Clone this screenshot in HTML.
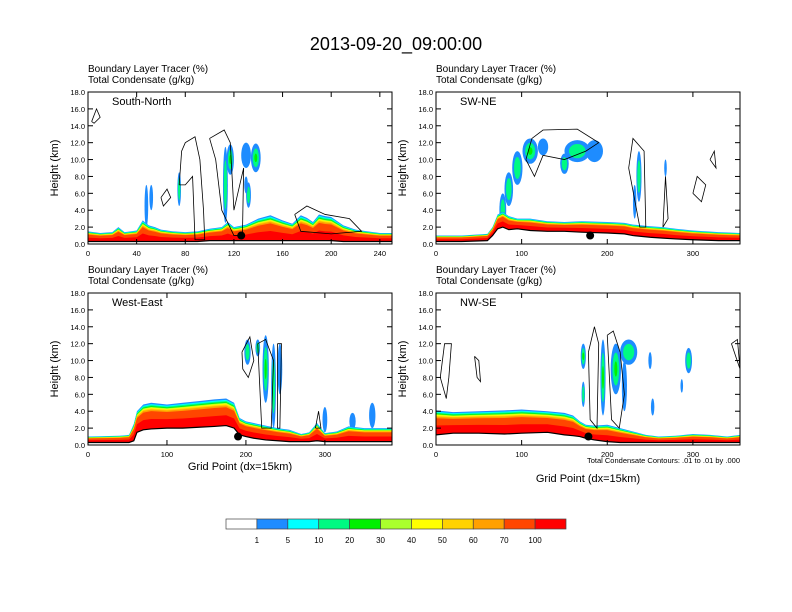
<!DOCTYPE html>
<html><head><meta charset="utf-8"><style>
body{margin:0;background:#fff}
svg{display:block;font-family:"Liberation Sans",sans-serif}
</style></head><body>
<svg id="chart" width="792" height="612" viewBox="0 0 792 612">
<text x="396" y="50" font-size="18" text-anchor="middle">2013-09-20_09:00:00</text>
</svg>
<script>
// ---- data ----
const colorLevels = ["1","5","10","20","30","40","50","60","70","100"];
const colors = ["#ffffff","#1e8cff","#00ffff","#00fa82","#00f000","#aaff2d","#ffff00","#ffd200","#ffa000","#ff4600","#ff0000"];
// South-North
const snGrid = [0,10,20,25,30,40,45,50,55,60,70,80,90,100,110,115,120,130,140,150,160,168,175,180,185,190,195,200,210,220,230,240,250];
const snTer  = [0.3,0.3,0.3,0.3,0.3,0.3,0.3,0.3,0.3,0.3,0.3,0.3,0.3,0.4,0.4,0.4,0.4,0.4,0.4,0.4,0.4,0.4,0.4,0.4,0.4,0.4,0.4,0.4,0.3,0.3,0.3,0.3,0.3];
const snBL   = [1.5,1.3,1.4,2.0,1.4,1.6,2.8,2.2,2.0,1.7,1.5,1.4,1.5,1.8,2.0,2.6,2.0,2.3,3.0,3.4,2.8,2.4,3.4,3.1,2.6,3.5,3.3,3.2,2.2,1.7,1.5,1.3,1.3];
// SW-NE
const swGrid = [0,30,60,66,72,78,85,95,110,130,150,170,200,220,230,250,265,280,300,330,355];
const swTer  = [0.3,0.3,0.4,1.0,1.8,2.0,1.7,1.8,1.6,1.5,1.5,1.4,1.3,1.2,1.0,0.8,0.7,0.6,0.5,0.4,0.4];
const swBL   = [1.0,1.0,1.2,2.0,3.5,3.8,3.3,3.0,3.0,2.7,2.6,2.7,2.6,2.5,2.3,2.1,2.0,1.8,1.6,1.4,1.3];
// West-East
const weGrid = [0,40,52,58,62,70,80,100,120,140,160,175,185,192,200,210,225,240,255,270,280,290,300,315,330,350,385];
const weTer  = [0.3,0.3,0.3,0.5,1.5,1.8,1.9,2.0,2.0,2.1,2.2,2.3,2.0,1.2,1.0,0.8,0.6,0.5,0.4,0.4,0.4,0.5,0.4,0.4,0.4,0.4,0.4];
const weBL   = [1.0,1.1,1.2,2.5,4.0,4.8,5.0,4.8,5.0,5.2,5.4,5.5,5.0,3.2,2.8,2.6,2.3,2.0,1.8,1.3,1.5,2.6,1.4,1.6,2.2,2.0,2.0];
// NW-SE
const nwGrid = [0,20,50,80,100,130,150,160,168,175,185,200,215,230,245,260,280,300,320,340,355];
const nwTer  = [1.2,1.4,1.4,1.3,1.4,1.5,1.2,1.1,1.0,0.8,0.6,0.4,0.3,0.3,0.3,0.3,0.3,0.3,0.3,0.3,0.3];
const nwBL   = [4.1,3.9,4.0,4.1,4.2,4.0,3.8,3.5,2.8,2.4,2.3,2.4,2.0,1.6,1.2,1.0,1.1,1.3,1.2,1.0,1.2];
// cloud blobs: [grid x, height km, half-width grid, half-height km, nLevels]
const snClouds = [[48,4.5,1.5,2.5,1],[52,5.5,1.5,1.5,1],[75,6.5,1.5,2,2],[113,7,2,4.5,2],[117,10,3,1.8,3],[130,10.5,4,1.5,1],[138,10.2,4,1.7,3],[132,5.8,2,1.5,2],[130,7,1.5,1,1]];
const swClouds = [[78,4,4,2,2],[85,6.5,5,2,2],[95,9,6,2,2],[110,11,9,1.5,3],[125,11.5,6,1,1],[150,9.5,5,1.2,2],[165,11,15,1.3,2],[185,11,10,1.3,1],[237,8,3,3,2],[232,5,2,2,1],[268,9,1.5,1,1]];
const weClouds = [[202,11,4,1.5,2],[215,11.5,3,1,2],[225,9,4,4,3],[235,7,3,5,2],[243,9,3,3,1],[300,3,3,1.5,1],[335,2.8,4,1,1],[360,3.5,4,1.5,1]];
const nwClouds = [[172,10.5,3,1.5,3],[172,6,2,1.5,2],[195,8,3,4.5,3],[210,9,6,3,3],[225,11,10,1.5,2],[220,7,3,3,1],[250,10,2,1,1],[295,10,4,1.5,2],[287,7,1.5,0.8,1],[253,4.5,2,1,1]];
// contours [x,h] closed polylines
const snCont = [[[75,7],[77,11],[80,12],[88,12.7],[92,10],[95,4],[96,0.5],[88,0.5],[86,8],[80,7],[75,7]],[[100,12.5],[112,13.5],[117,12],[120,4],[128,9],[127,1],[120,1],[110,4],[105,10],[100,12.5]],[[3,14.5],[7,16],[10,15],[5,14.3],[3,14.5]],[[60,5.5],[65,6.5],[68,5.5],[62,4.5],[60,5.5]],[[170,3.5],[180,4.5],[195,3.5],[215,3],[225,1.5],[200,1.2],[175,1.5],[170,3.5]]];
const swCont = [[[105,10],[112,12.5],[125,13.5],[165,13.6],[190,12],[175,11],[150,10],[125,10.5],[115,8],[105,10]],[[225,9],[230,12.5],[243,11],[245,2],[238,2],[225,9]],[[265,2],[268,8],[271,3],[265,2]],[[300,6],[310,5],[315,7],[305,8],[300,6]],[[320,10],[325,11],[327,9],[320,10]]];
const weCont = [[[195,11],[205,12.8],[210,10],[203,8],[196,9],[195,11]],[[215,12],[225,12.5],[235,10],[232,2],[220,2],[215,12]],[[240,12],[245,12],[243,2],[240,2],[240,12]],[[288,2],[292,4],[295,2],[288,2]]];
const nwCont = [[[5,8],[10,12],[18,12],[15,8],[12,5.5],[5,8]],[[45,10.5],[50,10],[52,7.5],[48,8],[45,10.5]],[[178,11],[185,14],[190,12],[188,2],[180,3],[178,11]],[[200,13],[207,13.5],[215,11],[220,6],[214,2],[205,3],[200,13]],[[345,12],[352,12.5],[355,9],[345,12]]];
const snTicks = [0,40,80,120,160,200,240];
const otherTicks = [0,100,200,300];
const yTicks = [0,2,4,6,8,10,12,14,16,18];

const svg = document.getElementById('chart');
const NS = 'http://www.w3.org/2000/svg';
function mk(tag, attrs, parent){const e=document.createElementNS(NS,tag);for(const k in attrs)e.setAttribute(k,attrs[k]);(parent||svg).appendChild(e);return e;}
const fracs=[1,0.95,0.91,0.87,0.84,0.81,0.78,0.74,0.68,0.38];
const cloudCols=["#1e8cff","#00fa82","#00f000"];

function drawPanel(p){
  const g=mk('g',{});
  
  
  const X=v=>p.x0+v/p.xmax*(p.x1-p.x0), Y=h=>p.y1-h/18*(p.y1-p.y0);
  const cp='cp-'+p.name;
  const cl=mk('clipPath',{id:cp},g); mk('rect',{x:p.x0,y:p.y0,width:p.x1-p.x0,height:p.y1-p.y0},cl);
  const plot=mk('g',{'clip-path':'url(#'+cp+')'},g);
  p.clouds.forEach(c=>{
    for(let k=0;k<c[4];k++){
      const s=1-k*0.35;
      const e=mk('ellipse',{cx:X(c[0]),cy:Y(c[1]),rx:Math.max(1,(X(c[2])-X(0))*s),ry:Math.max(1,(Y(0)-Y(c[3]))*s),fill:cloudCols[k]},plot);
      
      
    }
  });
  fracs.forEach((f,i)=>{
    let pts=p.grid.map((gx,j)=>X(gx)+','+Y(p.ter[j]+(p.bl[j]-p.ter[j])*f));
    for(let j=p.grid.length-1;j>=0;j--)pts.push(X(p.grid[j])+','+Y(0));
    const poly=mk('polygon',{points:pts.join(' '),fill:colors[i+1]},plot);
    
    
  });
  let tp=p.grid.map((gx,j)=>X(gx)+','+Y(p.ter[j]));
  mk('polygon',{points:tp.concat([X(p.xmax)+','+Y(0),X(0)+','+Y(0)]).join(' '),fill:'#fff'},plot);
  const tl=mk('polyline',{points:tp.join(' '),fill:'none',stroke:'#000','stroke-width':1.2},plot);
  
  
  p.cont.forEach(c=>{
    const l=mk('polyline',{points:c.map(q=>X(q[0])+','+Y(q[1])).join(' '),fill:'none',stroke:'#000','stroke-width':0.8},plot);
    
    
  });
  const dot=mk('circle',{cx:X(p.dot),cy:Y(1.0),r:4,fill:'#000'},plot);
  
  
  mk('rect',{x:p.x0,y:p.y0,width:p.x1-p.x0,height:p.y1-p.y0,fill:'none',stroke:'#000','stroke-width':1},g);
  yTicks.forEach(t=>{
    const y=Y(t);
    mk('line',{x1:p.x0,x2:p.x0+5,y1:y,y2:y,stroke:'#000'},g);
    mk('line',{x1:p.x1,x2:p.x1-5,y1:y,y2:y,stroke:'#000'},g);
    const tx=mk('text',{x:p.x0-3,y:y+3,'font-size':7.5,'text-anchor':'end'},g);tx.textContent=t.toFixed(1);
    
    
  });
  p.ticks.forEach(t=>{
    const x=X(t);
    mk('line',{x1:x,x2:x,y1:p.y1,y2:p.y1-5,stroke:'#000'},g);
    mk('line',{x1:x,x2:x,y1:p.y0,y2:p.y0+5,stroke:'#000'},g);
    const tx=mk('text',{x:x,y:p.y1+12,'font-size':7.5,'text-anchor':'middle'},g);tx.textContent=t;
    
    
  });
  const yl=mk('text',{x:0,y:0,'font-size':11,'text-anchor':'middle',transform:'translate('+(p.x0-30)+','+((p.y0+p.y1)/2)+') rotate(-90)'},g);yl.textContent='Height (km)';
  
  
  const t1=mk('text',{x:p.x0,y:p.y0-20,'font-size':10},g);t1.textContent='Boundary Layer Tracer   (%)';
  
  
  const t2=mk('text',{x:p.x0,y:p.y0-9,'font-size':10},g);t2.textContent='Total Condensate   (g/kg)';
  
  
  const lb=mk('text',{x:p.x0+24,y:p.y0+13,'font-size':11},g);lb.textContent=p.label;
  
  
}
drawPanel({name:'south-north',label:'South-North',x0:88,x1:392,y0:92,y1:244,xmax:250,ticks:snTicks,grid:snGrid,ter:snTer,bl:snBL,clouds:snClouds,cont:snCont,dot:126});
drawPanel({name:'sw-ne',label:'SW-NE',x0:436,x1:740,y0:92,y1:244,xmax:355,ticks:otherTicks,grid:swGrid,ter:swTer,bl:swBL,clouds:swClouds,cont:swCont,dot:180});
drawPanel({name:'west-east',label:'West-East',x0:88,x1:392,y0:293,y1:445,xmax:385,ticks:otherTicks,grid:weGrid,ter:weTer,bl:weBL,clouds:weClouds,cont:weCont,dot:190});
drawPanel({name:'nw-se',label:'NW-SE',x0:436,x1:740,y0:293,y1:445,xmax:355,ticks:otherTicks,grid:nwGrid,ter:nwTer,bl:nwBL,clouds:nwClouds,cont:nwCont,dot:178});

function txt(x,y,s,size,anchor,name){const t=mk('text',{x:x,y:y,'font-size':size,'text-anchor':anchor});t.textContent=s;
  
  }
txt(240,470,'Grid Point (dx=15km)',11,'middle','x-axis-title-left');
txt(588,482,'Grid Point (dx=15km)',11,'middle','x-axis-title-right');
txt(740,463,'Total Condensate Contours: .01 to .01 by .000',7.5,'end','contour-info');
const cw=340/11;
colors.forEach((c,i)=>{
  const r=mk('rect',{x:226+i*cw,y:519,width:cw,height:10,fill:c,stroke:'#444','stroke-width':0.7});
  
  
});
colorLevels.forEach((l,i)=>txt(226+(i+1)*cw,543,l,8,'middle','colorbar-label'));
</script>
</body></html>
